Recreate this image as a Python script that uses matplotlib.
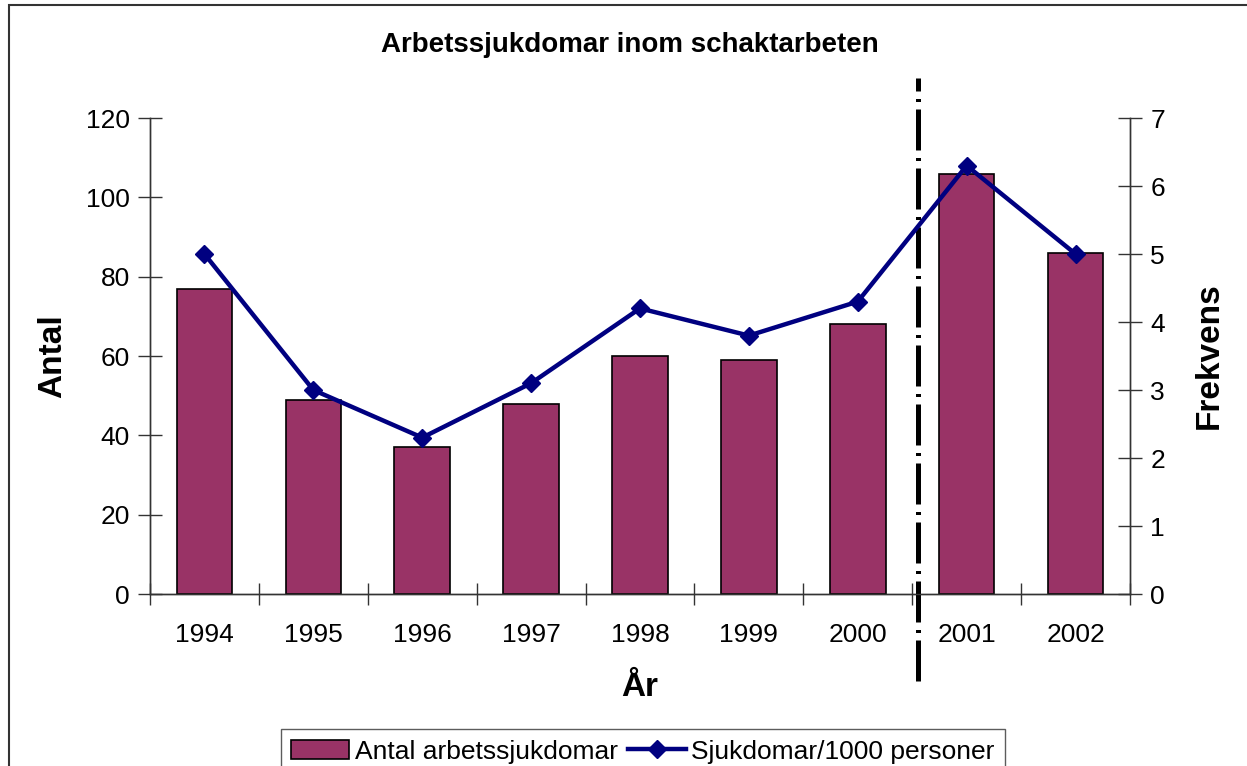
import matplotlib
matplotlib.use("Agg")
import matplotlib.pyplot as plt
import numpy as np
from matplotlib.patches import Rectangle

plt.rcParams['font.family'] = ['Liberation Sans', 'DejaVu Sans']

years = ['1994', '1995', '1996', '1997', '1998', '1999', '2000', '2001', '2002']
antal = [77, 49, 37, 48, 60, 59, 68, 106, 86]
frekvens = [5.0, 3.0, 2.3, 3.1, 4.2, 3.8, 4.3, 6.3, 5.0]

W, H = 1247, 766
fig = plt.figure(figsize=(W / 100, H / 100), dpi=100)
ax = fig.add_axes([150 / W, 1 - 594 / H, (1130 - 150) / W, (594 - 118) / H])
ax2 = ax.twinx()

x = np.arange(len(years))
bars = ax.bar(x, antal, width=0.51, color='#993366', edgecolor='black', linewidth=1.2, zorder=2)
ax.set_xlim(-0.5, len(years) - 0.5)
ax.set_ylim(0, 120)
ax.set_yticks(range(0, 121, 20))

line, = ax2.plot(x, frekvens, color='#000080', lw=3.2, marker='D', markersize=9, zorder=5)
ax2.set_ylim(0, 7)
ax2.set_yticks(range(0, 8))

# put line above bars
ax2.set_zorder(ax.get_zorder() + 1)
ax2.patch.set_visible(False)

# x ticks at category boundaries, labels at centers
ax.set_xticks(np.arange(-0.5, len(years), 1.0))
ax.set_xticklabels([])
ax.set_xticks(x, minor=True)
ax.set_xticklabels(years, minor=True)
ax.tick_params(axis='x', which='major', direction='inout', length=16, width=1, color='#333333')
ax.tick_params(axis='x', which='minor', length=0, labelsize=19, pad=21)
ax.tick_params(axis='y', direction='inout', length=17, width=1, labelsize=19, pad=6, color='#333333')
ax2.tick_params(axis='y', direction='inout', length=17, width=1, labelsize=19, pad=6, color='#333333')

for a in (ax, ax2):
    a.spines['top'].set_visible(False)
    for s in ('left', 'right', 'bottom'):
        a.spines[s].set_color('#333333')
        a.spines[s].set_linewidth(1)

ax.set_xlabel('År', fontsize=24, fontweight='bold', labelpad=18)
ax.set_ylabel('Antal', fontsize=24, fontweight='bold', labelpad=13)
ax2.set_ylabel('Frekvens', fontsize=24, fontweight='bold', labelpad=21)

# dash-dot separator between 2000 and 2001
ax.plot([6.55, 6.55], [-22, 130], color='black', lw=3.6, ls=(0, (8.2, 1.5, 0.6, 1.5)),
        clip_on=False, zorder=6, transform=ax.transData, solid_capstyle='butt', dash_capstyle='butt')

fig.text(630 / W, 1 - 45 / H, 'Arbetssjukdomar inom schaktarbeten', ha='center', va='center',
         fontsize=20, fontweight='bold')

# figure border
fig.patches.append(Rectangle((9 / W, -0.05), 1.1, 1 - 5 / H + 0.05, transform=fig.transFigure,
                             fill=False, edgecolor='#333333', lw=1.5))

leg = fig.legend([bars, line], ['Antal arbetssjukdomar', 'Sjukdomar/1000 personer'],
                 loc='upper center', bbox_to_anchor=(643 / W, 1 - 729 / H), ncol=2,
                 fontsize=19, frameon=True, fancybox=False, edgecolor='#333333',
                 borderpad=0.4, handlelength=2.2, handletextpad=0.2, columnspacing=0.4,
                 borderaxespad=0)
leg.get_frame().set_linewidth(1)

fig.savefig('out.png', dpi=100)
